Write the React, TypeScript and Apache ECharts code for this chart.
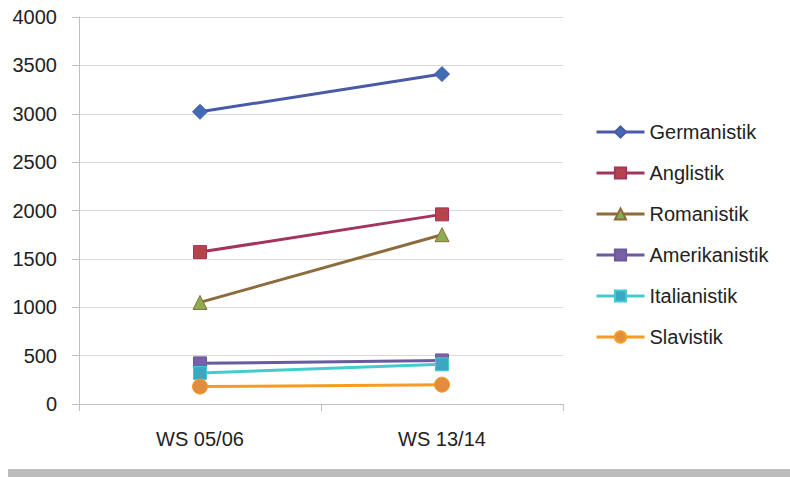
import React, { useEffect, useRef } from "react";
import * as echarts from "echarts";

const semesters = ["WS 05/06", "WS 13/14"];
const yTicks = [0, 500, 1000, 1500, 2000, 2500, 3000, 3500, 4000];

const germanistik = [3020, 3410];
const anglistik = [1570, 1960];
const romanistik = [1050, 1750];
const amerikanistik = [420, 450];
const italianistik = [320, 410];
const slavistik = [180, 200];

const FONT = "'Liberation Sans', Arial, sans-serif";

type SeriesDef = {
  name: string;
  data: number[];
  line: string;
  fill: string;
  symbol: string;
  size: number;
};

const seriesDefs: SeriesDef[] = [
  { name: "Germanistik", data: germanistik, line: "#4a5aa6", fill: "#3f6cb2", symbol: "diamond", size: 15 },
  { name: "Anglistik", data: anglistik, line: "#a3345e", fill: "#b6444a", symbol: "rect", size: 13 },
  { name: "Romanistik", data: romanistik, line: "#8c6c3c", fill: "#8cac52", symbol: "triangle", size: 14 },
  { name: "Amerikanistik", data: amerikanistik, line: "#6a5a9e", fill: "#7a5ea6", symbol: "rect", size: 13 },
  { name: "Italianistik", data: italianistik, line: "#44cccc", fill: "#3aa8c2", symbol: "rect", size: 13 },
  { name: "Slavistik", data: slavistik, line: "#f79c22", fill: "#e38c40", symbol: "circle", size: 15 },
];

export default function App() {
  const ref = useRef<HTMLDivElement>(null);

  useEffect(() => {
    if (!ref.current) return;
    const chart = echarts.init(ref.current, undefined, { renderer: "svg" });
    chart.setOption({
      animation: false,
      backgroundColor: "#ffffff",
      textStyle: { fontFamily: FONT },
      grid: { left: 79, right: 227, top: 17, bottom: 73, containLabel: false },
      legend: {
        orient: "vertical",
        left: 595,
        top: 122,
        padding: 0,
        itemWidth: 48,
        itemHeight: 14,
        itemGap: 21,
        lineStyle: { width: 3 },
        textStyle: { fontFamily: FONT, fontSize: 20, color: "#222222", lineHeight: 20 },
        data: seriesDefs.map((s) => s.name),
      },
      xAxis: {
        type: "category",
        data: semesters,
        boundaryGap: true,
        axisLine: { show: true, lineStyle: { color: "#bfbfbf", width: 1 } },
        axisTick: { show: true, length: 7, lineStyle: { color: "#bfbfbf" } },
        axisLabel: { fontFamily: FONT, fontSize: 20, color: "#222222", margin: 25 },
        splitLine: { show: false },
      },
      yAxis: {
        type: "value",
        min: yTicks[0],
        max: yTicks[yTicks.length - 1],
        interval: yTicks[1] - yTicks[0],
        axisLine: { show: true, lineStyle: { color: "#bfbfbf", width: 1 } },
        axisTick: { show: true, length: 7, lineStyle: { color: "#bfbfbf" } },
        axisLabel: {
          fontFamily: FONT,
          fontSize: 20,
          color: "#222222",
          margin: 22,
          formatter: (v: number) => String(v),
        },
        splitLine: { show: true, lineStyle: { color: "#d9d9d9", width: 1 } },
      },
      series: seriesDefs.map((s) => ({
        name: s.name,
        type: "line",
        data: s.data,
        symbol: s.symbol,
        symbolSize: s.size,
        lineStyle: { color: s.line, width: 3 },
        itemStyle: { color: s.fill, borderColor: s.line, borderWidth: 1 },
        emphasis: { disabled: true },
      })),
      graphic: [
        {
          type: "rect",
          shape: { x: 8, y: 469, width: 782, height: 8 },
          style: { fill: "#bcbcbc" },
          silent: true,
        },
      ],
    });
    return () => chart.dispose();
  }, []);

  return (
    <div
      ref={ref}
      style={{ position: "absolute", left: 0, top: 0, width: 790, height: 477 }}
    />
  );
}
